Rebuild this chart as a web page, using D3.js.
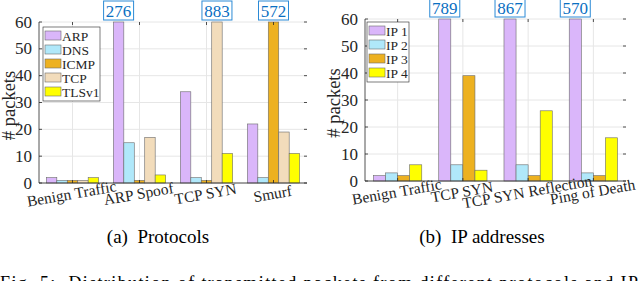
<!DOCTYPE html>
<html>
<head>
<meta charset="utf-8">
<script src="https://cdn.jsdelivr.net/npm/d3@7"></script>
<style>
  body { margin: 0; background: #fff; }
  svg { display: block; }
  text { font-family: "Liberation Serif", "DejaVu Serif", serif; }
</style>
</head>
<body>
<div id="chart"></div>
<script>
// panel (a): protocols
const protoGroups = ['Benign Traffic', 'ARP Spoof', 'TCP SYN', 'Smurf'];
const protocols = ['ARP', 'DNS', 'ICMP', 'TCP', 'TLSv1'];
const protoValues = [
    [2, 1, 1, 1, 2],
    [276, 15, 1, 17, 3],
    [34, 2, 1, 883, 11],
    [22, 2, 572, 19, 11]
];

// panel (b): IP addresses
const ipGroups = ['Benign Traffic', 'TCP SYN', 'TCP SYN Reflection', 'Ping of Death'];
const ips = ['IP 1', 'IP 2', 'IP 3', 'IP 4'];
const ipValues = [
    [2, 3, 2, 6],
    [789, 6, 39, 4],
    [867, 6, 2, 26],
    [570, 3, 2, 16]
];

const yTicks = [0, 10, 20, 30, 40, 50, 60];
const yMax = 60;

const protoColors = ['#dab6fa', '#b0e8fa', '#edb120', '#f2dcbb', '#ffff00'];
const ipColors = ['#dab6fa', '#b0e8fa', '#edb120', '#ffff00'];

const serif = '"Liberation Serif", "DejaVu Serif", serif';

const svg = d3.select('#chart').append('svg')
    .attr('width', 640)
    .attr('height', 281)
    .attr('font-family', serif);

function drawPanel(opts) {
    const { groups, series, values, colors, x0, x1, top, bottom, barFrac, caption, captionX, legend, ylabelX } = opts;

    const xGroup = d3.scalePoint().domain(groups).range([x0, x1]).padding(0.5);
    const step = xGroup.step();
    const bw = step * barFrac;
    const xBar = d3.scaleBand().domain(series).range([-bw / 2, bw / 2]);
    const y = d3.scaleLinear().domain([0, yMax]).range([bottom, top]);

    const g = svg.append('g');

    // grid
    g.selectAll('.hgrid').data(yTicks).enter().append('line')
        .attr('x1', x0).attr('x2', x1)
        .attr('y1', d => y(d)).attr('y2', d => y(d))
        .attr('stroke', '#e6e6e6').attr('stroke-width', 1);
    g.selectAll('.vgrid').data(groups).enter().append('line')
        .attr('x1', d => xGroup(d)).attr('x2', d => xGroup(d))
        .attr('y1', top).attr('y2', bottom)
        .attr('stroke', '#e6e6e6').attr('stroke-width', 1);

    // bars
    groups.forEach((grp, gi) => {
        series.forEach((s, si) => {
            const v = values[gi][si];
            const bx = xGroup(grp) + xBar(s);
            g.append('rect')
                .attr('x', bx)
                .attr('y', y(Math.min(v, yMax)))
                .attr('width', xBar.bandwidth())
                .attr('height', bottom - y(Math.min(v, yMax)))
                .attr('fill', colors[si])
                .attr('stroke', '#6b6b6b')
                .attr('stroke-width', 0.6);

            if (v > yMax) {
                const cx = bx + xBar.bandwidth() / 2;
                const lab = g.append('g');
                lab.append('rect')
                    .attr('x', cx - 15).attr('y', top - 21)
                    .attr('width', 30).attr('height', 19)
                    .attr('fill', '#fff')
                    .attr('stroke', '#2b8ad6').attr('stroke-width', 1);
                lab.append('text')
                    .attr('x', cx).attr('y', top - 5.5)
                    .attr('text-anchor', 'middle')
                    .style('font-size', '17px')
                    .style('fill', '#0a6fc2')
                    .text(v);
            }
        });
    });

    // axes
    const axisColor = '#262626';
    g.append('line').attr('x1', x0).attr('x2', x0).attr('y1', top).attr('y2', bottom)
        .attr('stroke', axisColor).attr('stroke-width', 0.8);
    g.append('line').attr('x1', x0).attr('x2', x1).attr('y1', bottom).attr('y2', bottom)
        .attr('stroke', axisColor).attr('stroke-width', 0.8);

    // inward ticks left/right
    yTicks.forEach(t => {
        g.append('line').attr('x1', x0).attr('x2', x0 + 3).attr('y1', y(t)).attr('y2', y(t))
            .attr('stroke', axisColor).attr('stroke-width', 0.8);
        g.append('line').attr('x1', x1).attr('x2', x1 - 3).attr('y1', y(t)).attr('y2', y(t))
            .attr('stroke', axisColor).attr('stroke-width', 0.8);
        g.append('text')
            .attr('x', x0 - 7).attr('y', y(t) + 5.5)
            .attr('text-anchor', 'end')
            .style('font-size', '17px')
            .style('fill', '#262626')
            .text(t);
    });
    groups.forEach(grp => {
        g.append('line').attr('x1', xGroup(grp)).attr('x2', xGroup(grp)).attr('y1', bottom).attr('y2', bottom - 3)
            .attr('stroke', axisColor).attr('stroke-width', 0.8);
        g.append('line').attr('x1', xGroup(grp)).attr('x2', xGroup(grp)).attr('y1', top).attr('y2', top + 3)
            .attr('stroke', axisColor).attr('stroke-width', 0.8);
        g.append('text')
            .attr('transform', `translate(${xGroup(grp)},${bottom + 16}) rotate(-10)`)
            .attr('text-anchor', 'middle')
            .style('font-size', '15.5px')
            .style('fill', '#262626')
            .text(grp);
    });

    // y label
    g.append('text')
        .attr('transform', `translate(${ylabelX},${(top + bottom) / 2 + 3}) rotate(-90)`)
        .attr('text-anchor', 'middle')
        .style('font-size', '18.5px')
        .style('white-space', 'pre')
        .style('fill', '#262626')
        .text('# packets');

    // legend
    const lg = g.append('g').attr('transform', `translate(${legend.x},${legend.y})`);
    lg.append('rect')
        .attr('width', legend.w).attr('height', series.length * 14 + 4)
        .attr('fill', '#fff').attr('stroke', '#262626').attr('stroke-width', 0.6);
    series.forEach((s, i) => {
        const row = lg.append('g').attr('transform', `translate(2, ${3 + i * 14})`);
        row.append('rect').attr('width', 16).attr('height', 9).attr('y', 1)
            .attr('fill', colors[i]).attr('stroke', '#6b6b6b').attr('stroke-width', 0.6);
        row.append('text').attr('x', 17).attr('y', 10.5)
            .style('font-size', '13.5px').style('fill', '#262626')
            .text(s);
    });

    // caption
    g.append('text')
        .attr('x', captionX).attr('y', 243)
        .attr('text-anchor', 'middle')
        .style('font-size', '19px')
        .style('white-space', 'pre')
        .style('fill', '#000')
        .text(caption);
}

drawPanel({
    groups: protoGroups, series: protocols, values: protoValues, colors: protoColors,
    x0: 39, x1: 307, top: 22, bottom: 183, barFrac: 0.78,
    caption: '(a)  Protocols', captionX: 158, ylabelX: 15,
    legend: { x: 43, y: 27, w: 57 }
});

drawPanel({
    groups: ipGroups, series: ips, values: ipValues, colors: ipColors,
    x0: 365, x1: 626, top: 19, bottom: 181, barFrac: 0.74,
    caption: '(b)  IP addresses', captionX: 482, ylabelX: 340,
    legend: { x: 367, y: 22, w: 42 }
});

// figure caption, mostly cut off at the bottom
svg.append('text')
    .attr('x', 0).attr('y', 289)
    .attr('textLength', 638)
    .style('font-size', '18px')
    .style('white-space', 'pre')
    .style('fill', '#000')
    .text('Fig. 5:  Distribution of transmitted packets from different protocols and IP');
</script>
</body>
</html>
